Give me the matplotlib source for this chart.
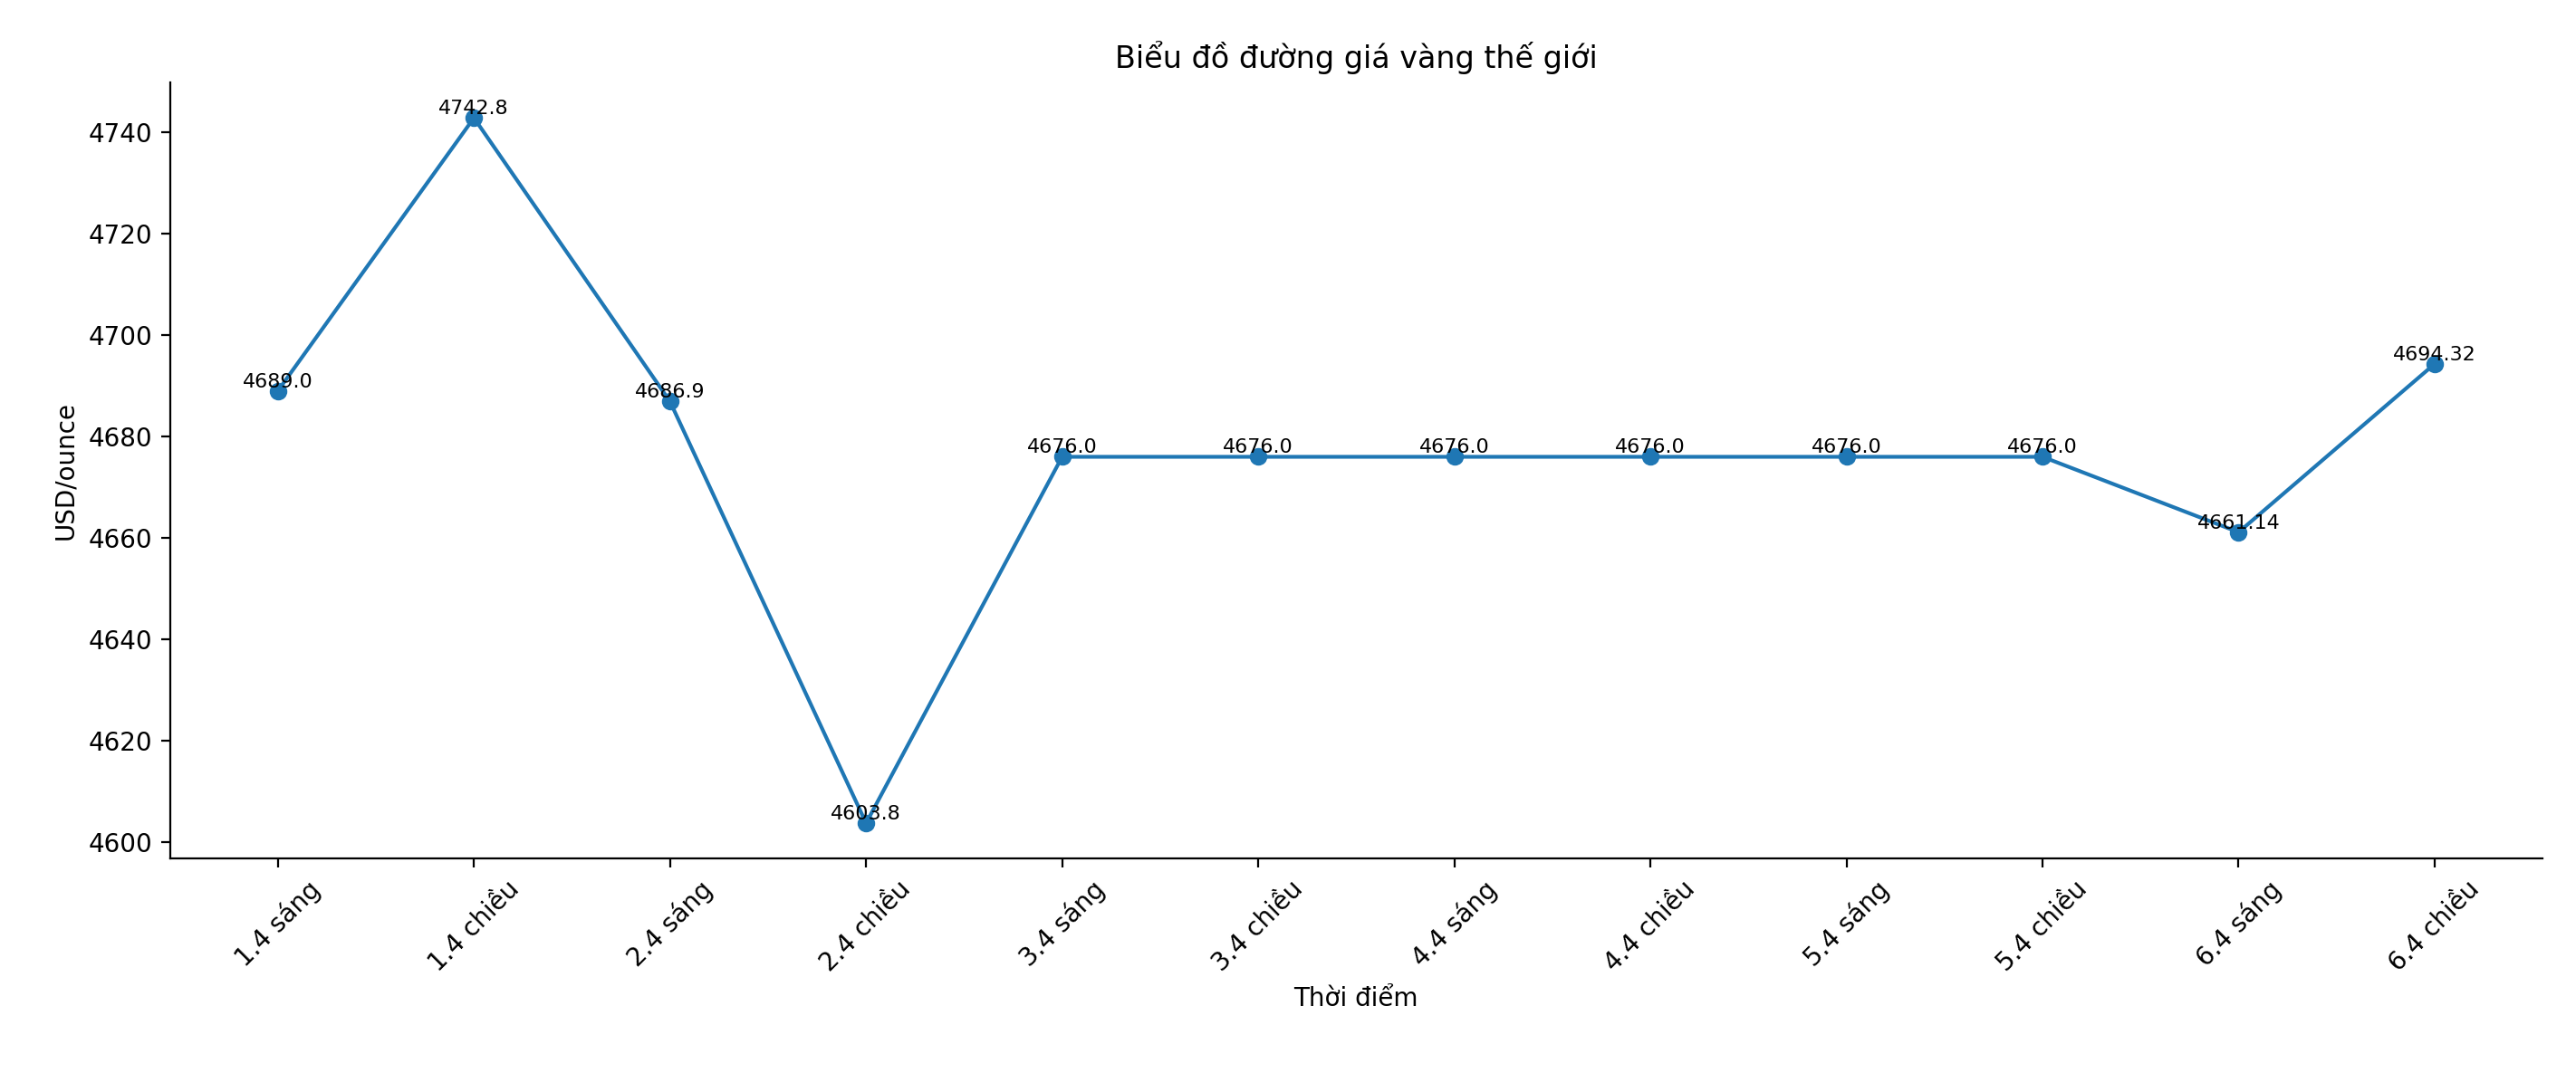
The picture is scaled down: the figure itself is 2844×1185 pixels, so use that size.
import matplotlib
matplotlib.use("Agg")
import matplotlib.pyplot as plt

labels = ["1.4 sáng", "1.4 chiều", "2.4 sáng", "2.4 chiều", "3.4 sáng", "3.4 chiều",
          "4.4 sáng", "4.4 chiều", "5.4 sáng", "5.4 chiều", "6.4 sáng", "6.4 chiều"]
values = [4689.0, 4742.8, 4686.9, 4603.8, 4676.0, 4676.0, 4676.0, 4676.0, 4676.0, 4676.0, 4661.14, 4694.32]
texts = ["4689.0", "4742.8", "4686.9", "4603.8", "4676.0", "4676.0", "4676.0", "4676.0",
         "4676.0", "4676.0", "4661.14", "4694.32"]

fig = plt.figure(figsize=(14.22, 5.925), dpi=200)
ax = fig.add_axes([0.066, 0.20, 0.921, 0.723])
x = list(range(len(labels)))
ax.plot(x, values, marker="o", color="#1f77b4")
for xi, v, t in zip(x, values, texts):
    ax.text(xi, v, t, ha="center", va="bottom", fontsize=8)
ax.set_xticks(x)
ax.set_xticklabels(labels, rotation=45)
ax.set_title("Biểu đồ đường giá vàng thế giới")
ax.set_xlabel("Thời điểm")
ax.set_ylabel("USD/ounce")
ax.spines["top"].set_visible(False)
ax.spines["right"].set_visible(False)
fig.savefig("out.png", dpi=200)
